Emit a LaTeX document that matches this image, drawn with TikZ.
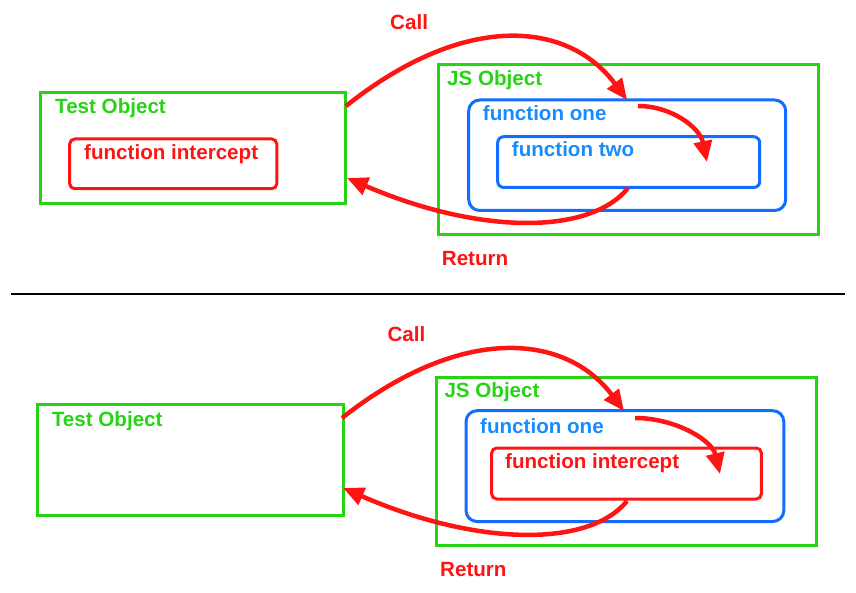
\documentclass[tikz,border=0pt]{standalone}
\usepackage{fontspec}
\setmainfont{Liberation Sans}
\usetikzlibrary{arrows.meta}
\definecolor{gr}{RGB}{38,212,20}
\definecolor{rd}{RGB}{255,20,20}
\definecolor{bl}{RGB}{17,108,255}
\definecolor{blt}{RGB}{24,140,255}
\tikzset{
  obj/.style={draw=gr,line width=3pt},
  fnb/.style={draw=bl,line width=3pt,rounded corners=#1},
  fnr/.style={draw=rd,line width=3pt,rounded corners=5pt},
  lbl/.style={anchor=base west,inner sep=0pt,font=\bfseries\fontsize{20.6}{24}\selectfont},
  arr/.style={draw=rd,line width=4.5pt,-{Triangle[length=21pt,width=18pt]}},
}
\begin{document}
\begin{tikzpicture}[x=1pt,y=-1pt]
\useasboundingbox (0,0) rectangle (856,593);
% ---------- top ----------
\draw[obj] (40.5,93) rectangle (345.8,204);
\node[lbl,text=gr] (tA) at (55,114) {Test Object};
\draw[fnr] (69.7,139) rectangle (276.8,188.7);
\node[lbl,text=rd] (fiA) at (84,160) {function intercept};
\draw[obj] (438.7,64.7) rectangle (818,234.3);
\node[lbl,text=gr] (jsA) at (447,86) {JS Object};
\draw[fnb=11pt] (468.7,100) rectangle (785.7,210.5);
\node[lbl,text=blt] (f1A) at (482.7,121) {function one};
\draw[fnb=6pt] (497.7,136.7) rectangle (759.7,187.5);
\node[lbl,text=blt] (f2A) at (511.7,157) {function two};
\node[lbl,text=rd] (callA) at (390,30) {Call};
\node[lbl,text=rd] (retA) at (441.7,266) {Return};
\coordinate (a1s) at (346,106);
\coordinate (a1e) at (627,100);
\coordinate (a2s) at (638,106);
\coordinate (a2e) at (707,162);
\coordinate (a3s) at (628,188);
\coordinate (a3e) at (347,178);
\draw[arr] (a1s) .. controls (466.6,10) and (569.1,22) .. (a1e);
\draw[arr] (a2s) .. controls (672,106) and (700,128) .. (a2e);
\draw[arr] (a3s) .. controls (590,235) and (480,235) .. (a3e);
% ---------- divider ----------
\coordinate (dl) at (11,294.2);
\coordinate (dr) at (845,294.2);
\draw[line width=1.7pt] (dl) -- (dr);
% ---------- bottom ----------
\draw[obj] (37.7,404) rectangle (343.2,515);
\node[lbl,text=gr] (tB) at (51.7,426) {Test Object};
\draw[obj] (436.7,377) rectangle (816.3,545.5);
\node[lbl,text=gr] (jsB) at (444.3,397.3) {JS Object};
\draw[fnb=11pt] (466,410.7) rectangle (783.8,521.5);
\node[lbl,text=blt] (f1B) at (480,433.3) {function one};
\draw[fnr] (491.7,448) rectangle (761.3,499);
\node[lbl,text=rd] (fiB) at (505,468.3) {function intercept};
\node[lbl,text=rd] (callB) at (387.3,341.7) {Call};
\node[lbl,text=rd] (retB) at (440,576.7) {Return};
\coordinate (b1s) at (342,418);
\coordinate (b1e) at (624,411);
\coordinate (b2s) at (635,418);
\coordinate (b2e) at (720,474);
\coordinate (b3s) at (627,501);
\coordinate (b3e) at (343,488);
\draw[arr] (b1s) .. controls (462.6,323) and (566.1,334) .. (b1e);
\draw[arr] (b2s) .. controls (675,418) and (712,440) .. (b2e);
\draw[arr] (b3s) .. controls (589,548) and (476,546) .. (b3e);
\end{tikzpicture}
\end{document}
